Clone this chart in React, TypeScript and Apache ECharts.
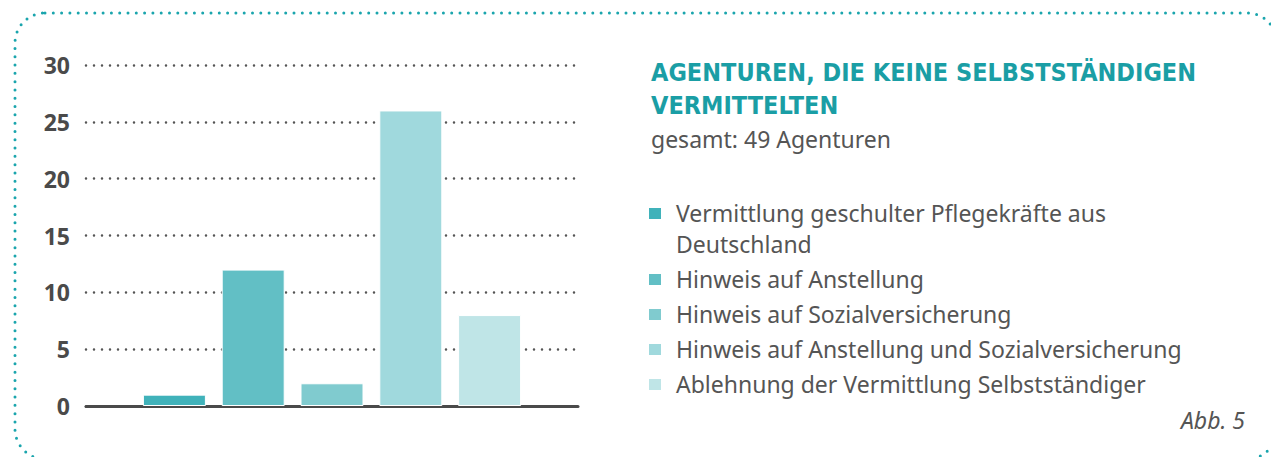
import React, { useEffect, useRef } from "react";
import * as echarts from "echarts";

const legendLabels = [
  "Vermittlung geschulter Pflegekräfte aus\nDeutschland",
  "Hinweis auf Anstellung",
  "Hinweis auf Sozialversicherung",
  "Hinweis auf Anstellung und Sozialversicherung",
  "Ablehnung der Vermittlung Selbstständiger",
];
const seriesNames = legendLabels.map((l) => l.replace("\n", " "));
const values = [1, 12, 2, 26, 8];
const colors = ["#40B2BA", "#62BFC5", "#80CBCF", "#A0D9DD", "#BFE5E7"];
const yTicks = [0, 5, 10, 15, 20, 25, 30];
const titleText = "AGENTUREN, DIE KEINE SELBSTSTÄNDIGEN\nVERMITTELTEN";
const subtitleText = "gesamt: 49 Agenturen";
const figureLabel = "Abb. 5";

const BODY_FONT = "'Noto Sans', 'Open Sans', sans-serif";
const TITLE_FONT = "'DejaVu Sans Condensed', 'Noto Sans', sans-serif";
const TEXT_COLOR = "#555555";
const TEAL = "#1A9EA5";

export default function App() {
  const ref = useRef<HTMLDivElement>(null);

  useEffect(() => {
    if (!ref.current) return;
    const chart = echarts.init(ref.current, undefined, { renderer: "svg" });

    const legendEls: any[] = [];
    let y = 213;
    legendLabels.forEach((label, i) => {
      const lines = label.split("\n").length;
      legendEls.push({
        type: "rect",
        shape: { x: 649, y: y - 5, width: 12, height: 11 },
        style: { fill: colors[i] },
      });
      legendEls.push({
        type: "text",
        x: 676,
        y: y - 15.5,
        style: {
          text: label,
          font: `400 23px ${BODY_FONT}`,
          fill: TEXT_COLOR,
          lineHeight: 31,
          verticalAlign: "top",
          align: "left",
        },
      });
      y += 31 * (lines - 1) + 35;
    });

    chart.setOption({
      animation: false,
      backgroundColor: "#ffffff",
      title: {
        text: titleText,
        subtext: subtitleText,
        left: 646,
        top: 51,
        itemGap: 5,
        textStyle: {
          fontFamily: TITLE_FONT,
          fontWeight: "bold",
          fontSize: 25,
          lineHeight: 33,
          color: TEAL,
        },
        subtextStyle: {
          fontFamily: BODY_FONT,
          fontSize: 23,
          color: TEXT_COLOR,
        },
      },
      grid: [
        { left: 86, right: 693, top: 65, bottom: 51 },
        { left: 135, right: 742, top: 65, bottom: 51 },
      ],
      xAxis: [
        {
          gridIndex: 0,
          type: "category",
          data: [""],
          axisLine: { show: true, lineStyle: { color: "#4a4a4a", width: 3 } },
          axisTick: { show: false },
          axisLabel: { show: false },
        },
        {
          gridIndex: 1,
          type: "category",
          data: seriesNames,
          axisLine: { show: false },
          axisTick: { show: false },
          axisLabel: { show: false },
        },
      ],
      yAxis: [
        {
          gridIndex: 0,
          type: "value",
          min: yTicks[0],
          max: yTicks[yTicks.length - 1],
          interval: 5,
          axisLine: { show: false },
          axisTick: { show: false },
          axisLabel: {
            margin: 16,
            fontFamily: BODY_FONT,
            fontWeight: "bold",
            fontSize: 23,
            color: "#4a4a4a",
          },
          splitLine: {
            show: true,
            lineStyle: { color: "#555555", width: 2.5, type: [0, 8], cap: "round" },
          },
        },
        {
          gridIndex: 1,
          type: "value",
          min: yTicks[0],
          max: yTicks[yTicks.length - 1],
          interval: 5,
          show: false,
          splitLine: { show: false },
        },
      ],
      series: seriesNames.map((name, i) => ({
        name,
        type: "bar",
        xAxisIndex: 1,
        yAxisIndex: 1,
        barWidth: 63,
        barGap: "-100%",
        data: seriesNames.map((_, j) => (j === i ? values[i] : "-")),
        itemStyle: { color: colors[i], borderColor: "#ffffff", borderWidth: 1 },
        z: 3,
      })),
      graphic: [
        {
          type: "rect",
          shape: { x: 15, y: 13, width: 1262, height: 446, r: 30 },
          style: {
            fill: "none",
            stroke: "#1AA5AD",
            lineWidth: 3,
            lineDash: [0, 8.3],
            lineCap: "round",
          },
          silent: true,
        },
        ...legendEls,
        {
          type: "text",
          x: 1245,
          y: 420,
          style: {
            text: figureLabel,
            font: `italic 400 23px ${BODY_FONT}`,
            fill: TEXT_COLOR,
            align: "right",
            verticalAlign: "middle",
          },
        },
      ],
    });

    return () => chart.dispose();
  }, []);

  return (
    <div
      ref={ref}
      style={{ position: "fixed", left: 0, top: 0, width: 1271, height: 457, background: "#fff" }}
    />
  );
}
